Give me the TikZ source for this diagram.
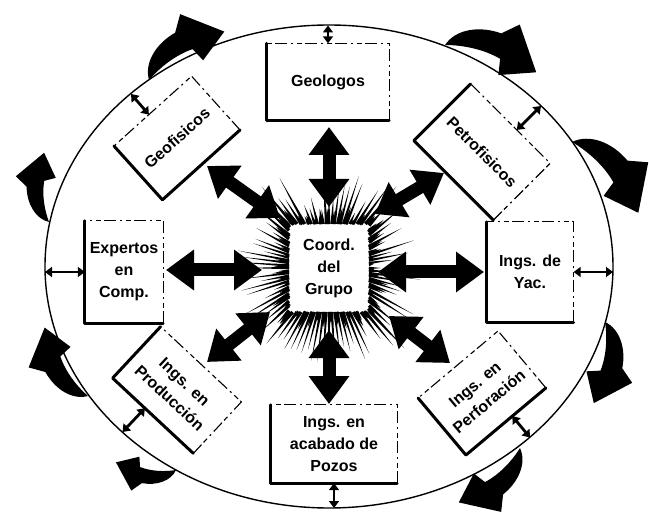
\documentclass[tikz,border=0pt]{standalone}
\usepackage{fontspec}
\setmainfont{Liberation Sans}
\usetikzlibrary{arrows.meta,calc}
\newcommand\outarrow[3]{%
  \begin{scope}[shift={(#1)}, x=1pt, y=1pt, rotate=#2, scale=#3]
    \fill (0,0) .. controls (5,17) and (25,27) .. (47,26) -- (61,39) -- (89,1)
      -- (56,-12) -- (53,3) .. controls (36,7) and (16,5) .. (0,0) -- cycle;
  \end{scope}}
\newcommand\roughedges[1]{%
  \draw[thickedge] (#1.north west) -- (#1.south west) -- (#1.south east);
  \draw[thinedge] (#1.south east) -- (#1.north east) -- (#1.north west);}
\begin{document}
\begin{tikzpicture}[x=1pt,y=-1pt,
  boxtext/.style={inner sep=0pt, align=center, font=\bfseries\fontsize{16}{22}\selectfont},
  thickedge/.style={line width=3pt, line cap=round, line join=round},
  thinedge/.style={line width=1.1pt, dash pattern=on 12pt off 3pt on 5pt off 4pt on 2pt off 4pt},
  bigarrow/.style={line width=13pt, {Triangle[length=28pt,width=39pt]}-{Triangle[length=28pt,width=39pt]}},
  smallarrow/.style={line width=2.8pt, {Triangle[length=7pt,width=10pt]}-{Triangle[length=7pt,width=10pt]}},
]
\useasboundingbox (0,0) rectangle (649,516);

% ellipse
\draw[line width=1.4pt] (329,266.5) ellipse (284 and 241.5);

% outer curved arrows
\outarrow{149,80}{32.1}{1.006}
\outarrow{445,45}{-17.3}{1.07}
\outarrow{572,142}{-47.5}{1.09}
\outarrow{605,322}{-98.5}{0.92}
\outarrow{520,448}{221}{0.92}
\outarrow{176,470}{172.1}{0.68}
\outarrow{88,396}{121.7}{0.91}
\outarrow{49,222}{93.4}{0.78}

% starburst
\begin{scope}[shift={(329,268)}]
  \pgfmathsetseed{3}
  \foreach \a in {0,3.6,...,356.4}{
    \pgfmathsetmacro\rb{1/max(abs(cos(\a))/40,abs(sin(\a))/44)}
    \pgfmathsetmacro\rt{\rb+8+46*rnd}
    \fill (\a-1.8:\rb) -- (\a:\rt) -- (\a+1.8:\rb) -- cycle;
  }
  \foreach \a in {1.8,9,...,358}{
    \pgfmathsetmacro\rb{1/max(abs(cos(\a))/40,abs(sin(\a))/44)}
    \pgfmathsetmacro\rt{\rb+4+16*rnd}
    \fill (\a-3:\rb) -- (\a:\rt) -- (\a+3:\rb) -- cycle;
  }
\end{scope}

% boxes
\node[boxtext, minimum width=122pt, minimum height=77pt] (geo) at (328,82) {Geologos};
\node[boxtext, minimum width=78pt, minimum height=102pt] (exp) at (124,272) {Expertos\\en\\Comp.};
\node[boxtext, minimum width=87pt, minimum height=100pt] (yac) at (530,272) {Ings. de\\Yac.};
\node[boxtext, minimum width=126pt, minimum height=78pt] (poz) at (334,444) {Ings. en\\acabado de\\Pozos};
\node[boxtext, minimum width=104pt, minimum height=72pt, rotate=42] (geof) at (177,138) {Geofisicos};
\node[boxtext, minimum width=112pt, minimum height=80pt, rotate=-45] (petro) at (482,152) {Petrofisicos};
\node[boxtext, minimum width=110pt, minimum height=70pt, rotate=-43] (prod) at (177,390) {Ings. en\\Producción};
\node[boxtext, minimum width=104pt, minimum height=74pt, rotate=40] (perf) at (482,393) {Ings. en\\Perforación};
\node[boxtext] (coord) at (329,268) {Coord.\\del\\Grupo};

\roughedges{geo}
\roughedges{exp}
\roughedges{yac}
\roughedges{poz}
\roughedges{geof}
\roughedges{petro}
\roughedges{prod}
\roughedges{perf}

% inner arrows
\coordinate (a1) at (329,127); \coordinate (b1) at (329,207);
\coordinate (a2) at (329,404); \coordinate (b2) at (329,330);
\coordinate (a3) at (166,270); \coordinate (b3) at (262,270);
\coordinate (a4) at (484,272); \coordinate (b4) at (378,272);
\coordinate (a5) at (207,166); \coordinate (b5) at (280,218);
\coordinate (a6) at (444,173); \coordinate (b6) at (375,214);
\coordinate (a7) at (207,362); \coordinate (b7) at (270,312);
\coordinate (a8) at (450,363); \coordinate (b8) at (389,316);
\foreach \i in {1,...,8}{\draw[bigarrow] (a\i) -- (b\i);}

% small arrows to ellipse
\coordinate (e1) at (328,25.5);
\coordinate (e2) at (334,508);
\coordinate (e3) at (45,272);
\coordinate (e4) at (613,272);
\coordinate (e5) at (131,94);
\coordinate (e6) at (541,106);
\coordinate (e7) at (122.5,432);
\coordinate (e8) at (530,437.5);
\coordinate (p5) at ($(geof.north west)!0.45!(geof.north east)$);
\coordinate (p6) at ($(petro.north west)!0.58!(petro.north east)$);
\coordinate (p7) at ($(prod.south west)!0.4!(prod.south east)$);
\coordinate (p8) at ($(perf.south west)!0.58!(perf.south east)$);
\draw[smallarrow] (geo.north) -- (e1);
\draw[smallarrow] (poz.south) -- (e2);
\draw[smallarrow] (exp.west) -- (e3);
\draw[smallarrow] (yac.east) -- (e4);
\draw[smallarrow] (p5) -- (e5);
\draw[smallarrow] (p6) -- (e6);
\draw[smallarrow] (p7) -- (e7);
\draw[smallarrow] (p8) -- (e8);
\end{tikzpicture}
\end{document}
